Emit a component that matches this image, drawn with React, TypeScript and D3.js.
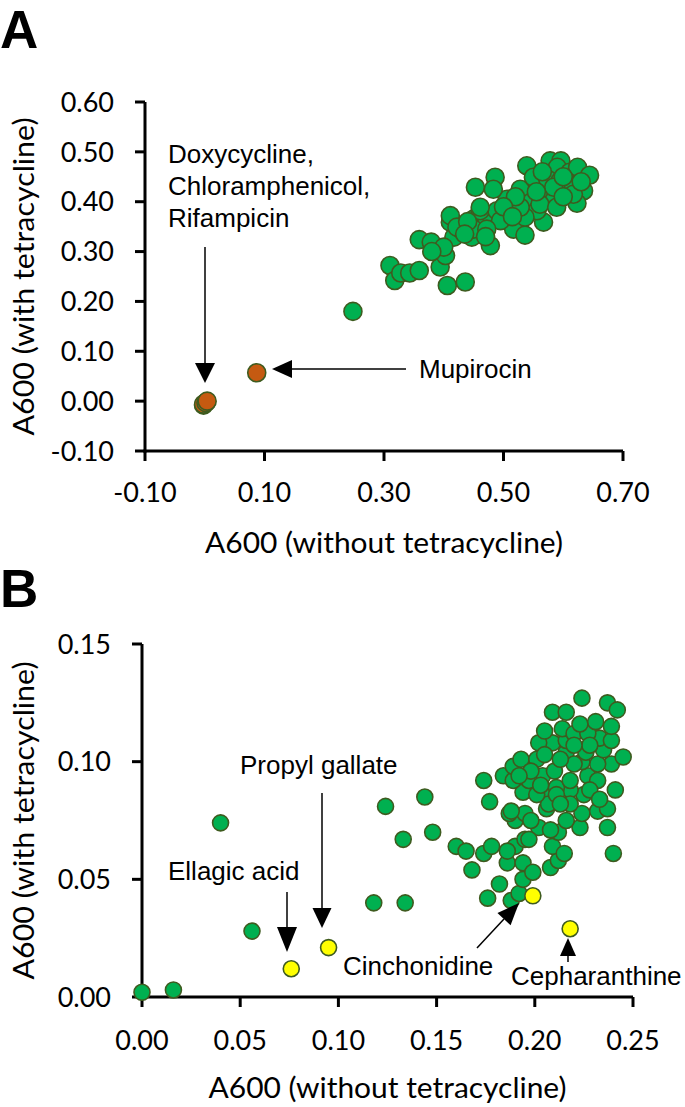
import React from 'react';
import * as d3 from 'd3';

// Panel A: growth with vs without tetracycline
const greenA: [number, number][] = [
  [0.248, 0.18], [0.31, 0.272], [0.318, 0.242], [0.328, 0.257], [0.343, 0.257],
  [0.359, 0.262], [0.406, 0.232], [0.436, 0.239], [0.394, 0.269], [0.403, 0.292],
  [0.359, 0.324], [0.379, 0.319], [0.411, 0.359], [0.417, 0.329], [0.447, 0.329],
  [0.45, 0.365], [0.472, 0.365], [0.478, 0.312], [0.461, 0.382], [0.453, 0.429],
  [0.486, 0.449], [0.506, 0.405], [0.506, 0.379], [0.517, 0.345], [0.536, 0.333],
  [0.567, 0.359], [0.528, 0.425], [0.539, 0.472], [0.55, 0.449], [0.546, 0.399],
  [0.57, 0.422], [0.578, 0.482], [0.596, 0.482], [0.59, 0.469], [0.611, 0.459],
  [0.624, 0.469], [0.644, 0.453], [0.634, 0.422], [0.623, 0.397], [0.606, 0.422],
  [0.584, 0.402], [0.556, 0.382], [0.536, 0.369], [0.489, 0.382], [0.483, 0.425],
  [0.495, 0.362], [0.45, 0.345], [0.428, 0.345], [0.411, 0.372], [0.461, 0.389],
  [0.472, 0.345], [0.574, 0.445], [0.595, 0.442], [0.617, 0.433], [0.584, 0.429],
  [0.4, 0.309], [0.422, 0.349], [0.561, 0.395], [0.589, 0.389], [0.617, 0.415],
  [0.528, 0.389], [-0.002, -0.008], [0.44, 0.36], [0.52, 0.41], [0.555, 0.42],
  [0.6, 0.45], [0.565, 0.46], [0.5, 0.39], [0.47, 0.33], [0.38, 0.3],
  [0.6, 0.41], [0.63, 0.44], [0.435, 0.335], [0.515, 0.37],
];
const orangeA: [number, number][] = [
  [-0.002, -0.006], [0.002, -0.003], [0.004, 0.0], [0.087, 0.057],
];
const xTicksA = [-0.1, 0.1, 0.3, 0.5, 0.7];
const yTicksA = [-0.1, 0.0, 0.1, 0.2, 0.3, 0.4, 0.5, 0.6];

// Panel B: zoom on the low range
const greenB: [number, number][] = [
  [0.0, 0.002], [0.016, 0.003], [0.04, 0.074], [0.056, 0.028], [0.118, 0.04],
  [0.134, 0.04], [0.133, 0.067], [0.124, 0.081], [0.144, 0.085], [0.148, 0.07],
  [0.16, 0.064], [0.165, 0.062], [0.174, 0.061], [0.178, 0.064], [0.168, 0.054],
  [0.182, 0.048], [0.176, 0.042], [0.188, 0.041], [0.192, 0.044], [0.194, 0.05],
  [0.186, 0.057], [0.194, 0.057], [0.199, 0.053], [0.208, 0.055], [0.212, 0.058],
  [0.209, 0.064], [0.215, 0.061], [0.24, 0.061], [0.19, 0.064], [0.186, 0.062],
  [0.195, 0.067], [0.202, 0.072], [0.212, 0.07], [0.223, 0.072], [0.216, 0.075],
  [0.237, 0.072], [0.19, 0.075], [0.187, 0.078], [0.195, 0.078], [0.206, 0.08],
  [0.224, 0.078], [0.232, 0.079], [0.237, 0.08], [0.177, 0.083], [0.174, 0.092],
  [0.241, 0.088], [0.194, 0.087], [0.206, 0.086], [0.225, 0.086], [0.218, 0.088],
  [0.211, 0.089], [0.184, 0.094], [0.189, 0.092], [0.204, 0.094], [0.197, 0.092],
  [0.189, 0.098], [0.193, 0.101], [0.201, 0.101], [0.21, 0.096], [0.218, 0.092],
  [0.227, 0.094], [0.232, 0.092], [0.239, 0.099], [0.232, 0.099], [0.224, 0.1],
  [0.245, 0.102], [0.226, 0.104], [0.235, 0.105], [0.216, 0.104], [0.209, 0.108],
  [0.202, 0.108], [0.216, 0.109], [0.233, 0.11], [0.239, 0.109], [0.205, 0.113],
  [0.214, 0.114], [0.22, 0.112], [0.227, 0.112], [0.223, 0.116], [0.231, 0.117],
  [0.239, 0.115], [0.209, 0.121], [0.216, 0.121], [0.224, 0.127], [0.237, 0.125],
  [0.242, 0.122], [0.197, 0.067], [0.207, 0.082], [0.218, 0.082], [0.201, 0.086],
  [0.211, 0.086], [0.188, 0.079], [0.198, 0.096], [0.205, 0.103], [0.22, 0.099],
  [0.213, 0.101], [0.228, 0.107], [0.22, 0.107], [0.192, 0.094], [0.203, 0.09],
  [0.228, 0.088], [0.233, 0.084], [0.213, 0.082], [0.198, 0.075], [0.208, 0.071],
];
const yellowB: [number, number][] = [
  [0.076, 0.012], [0.095, 0.021], [0.199, 0.043], [0.218, 0.029],
];
const xTicksB = [0, 0.05, 0.1, 0.15, 0.2, 0.25];
const yTicksB = [0, 0.05, 0.1, 0.15];

const GREEN = '#00b050';
const ORANGE = '#c55a11';
const YELLOW = '#ffff00';
const EDGE = '#3e5b1f';
const tickFont = 'Lato, "Liberation Sans", sans-serif';
const labelFont = '"Liberation Sans", Arial, sans-serif';

const fmt = (v: number) => v.toFixed(2);

function Arrow({ x1, y1, x2, y2, head = 20, w = 20 }: any) {
  // line from (x1,y1) to tip (x2,y2) with filled triangle head
  const ang = Math.atan2(y2 - y1, x2 - x1);
  const bx = x2 - head * Math.cos(ang);
  const by = y2 - head * Math.sin(ang);
  const px = (w / 2) * -Math.sin(ang);
  const py = (w / 2) * Math.cos(ang);
  return (
    <g>
      <line x1={x1} y1={y1} x2={bx} y2={by} stroke="#000" strokeWidth={1.5} />
      <path d={`M${x2},${y2}L${bx + px},${by + py}L${bx - px},${by - py}Z`} fill="#000" />
    </g>
  );
}

function Axes({ x, y, xTicks, yTicks, xTitle, yTitle, xLabelY, titleY }: any) {
  const [x0, x1] = x.range();
  const [y0, y1] = y.range();
  return (
    <g>
      <line x1={x0} x2={x0} y1={y1} y2={y0 + 1.5} stroke="#000" strokeWidth={3} />
      <line x1={x0 - 1.5} x2={x1} y1={y0} y2={y0} stroke="#000" strokeWidth={3} />
      {yTicks.map((t: number) => (
        <g key={'y' + t}>
          <line x1={x0 - 10} x2={x0} y1={y(t)} y2={y(t)} stroke="#000" strokeWidth={3} />
          <text x={x0 - 31} y={y(t)} dy="0.36em" textAnchor="end" fontFamily={tickFont} fontSize={27}>
            {fmt(t)}
          </text>
        </g>
      ))}
      {xTicks.map((t: number) => (
        <g key={'x' + t}>
          <line x1={x(t)} x2={x(t)} y1={y0} y2={y0 + 10} stroke="#000" strokeWidth={3} />
          <text x={x(t)} y={xLabelY} textAnchor="middle" fontFamily={tickFont} fontSize={27}>
            {fmt(t)}
          </text>
        </g>
      ))}
      <text x={(x0 + x1) / 2} y={titleY} textAnchor="middle" fontFamily={tickFont} fontSize={28}
        textLength={358} lengthAdjust="spacingAndGlyphs">
        {xTitle}
      </text>
      <text transform={`translate(34,${(y0 + y1) / 2}) rotate(-90)`} textAnchor="middle"
        fontFamily={tickFont} fontSize={28} textLength={318} lengthAdjust="spacingAndGlyphs">
        {yTitle}
      </text>
    </g>
  );
}

function Dots({ data, x, y, r, fill }: any) {
  return (
    <g>
      {data.map((d: [number, number], i: number) => (
        <circle key={i} cx={x(d[0])} cy={y(d[1])} r={r} fill={fill} stroke={EDGE} strokeWidth={1.6} />
      ))}
    </g>
  );
}

export default function App() {
  const xA = d3.scaleLinear().domain([-0.1, 0.7]).range([145, 623]);
  const yA = d3.scaleLinear().domain([-0.1, 0.6]).range([451, 102]);
  const xB = d3.scaleLinear().domain([0, 0.25]).range([142, 633]);
  const yB = d3.scaleLinear().domain([0, 0.15]).range([997, 644]);

  return (
    <svg width={685} height={1107} style={{ position: 'absolute', left: 0, top: 0, background: '#fff' }}>
      <text x={0} y={48} fontFamily={labelFont} fontWeight="bold" fontSize={53}>A</text>
      <Axes x={xA} y={yA} xTicks={xTicksA} yTicks={yTicksA} xLabelY={502} titleY={553}
        xTitle="A600 (without tetracycline)" yTitle="A600 (with tetracycline)" />
      <Dots data={greenA} x={xA} y={yA} r={9} fill={GREEN} />
      <Dots data={orangeA} x={xA} y={yA} r={9} fill={ORANGE} />
      <g fontFamily={labelFont} fontSize={26}>
        <text x={168} y={163}>Doxycycline,</text>
        <text x={168} y={195}>Chloramphenicol,</text>
        <text x={168} y={227}>Rifampicin</text>
        <text x={419} y={378}>Mupirocin</text>
      </g>
      <Arrow x1={205} y1={247} x2={205} y2={383} head={20} w={20} />
      <Arrow x1={406} y1={369} x2={272} y2={369} head={20} w={18} />

      <text x={0} y={607} fontFamily={labelFont} fontWeight="bold" fontSize={53}>B</text>
      <Axes x={xB} y={yB} xTicks={xTicksB} yTicks={yTicksB} xLabelY={1050} titleY={1098}
        xTitle="A600 (without tetracycline)" yTitle="A600 (with tetracycline)" />
      <Dots data={greenB} x={xB} y={yB} r={8} fill={GREEN} />
      <Dots data={yellowB} x={xB} y={yB} r={8} fill={YELLOW} />
      <g fontFamily={labelFont} fontSize={26}>
        <text x={240} y={774}>Propyl gallate</text>
        <text x={168} y={880}>Ellagic acid</text>
        <text x={343} y={975}>Cinchonidine</text>
        <text x={511} y={985}>Cepharanthine</text>
      </g>
      <Arrow x1={322} y1={793} x2={322} y2={928} head={20} w={19} />
      <Arrow x1={287} y1={892} x2={287} y2={952} head={25} w={20} />
      <Arrow x1={477} y1={948} x2={519} y2={903} head={22} w={18} />
      <Arrow x1={568} y1={962} x2={568} y2={938} head={18} w={16} />
    </svg>
  );
}
